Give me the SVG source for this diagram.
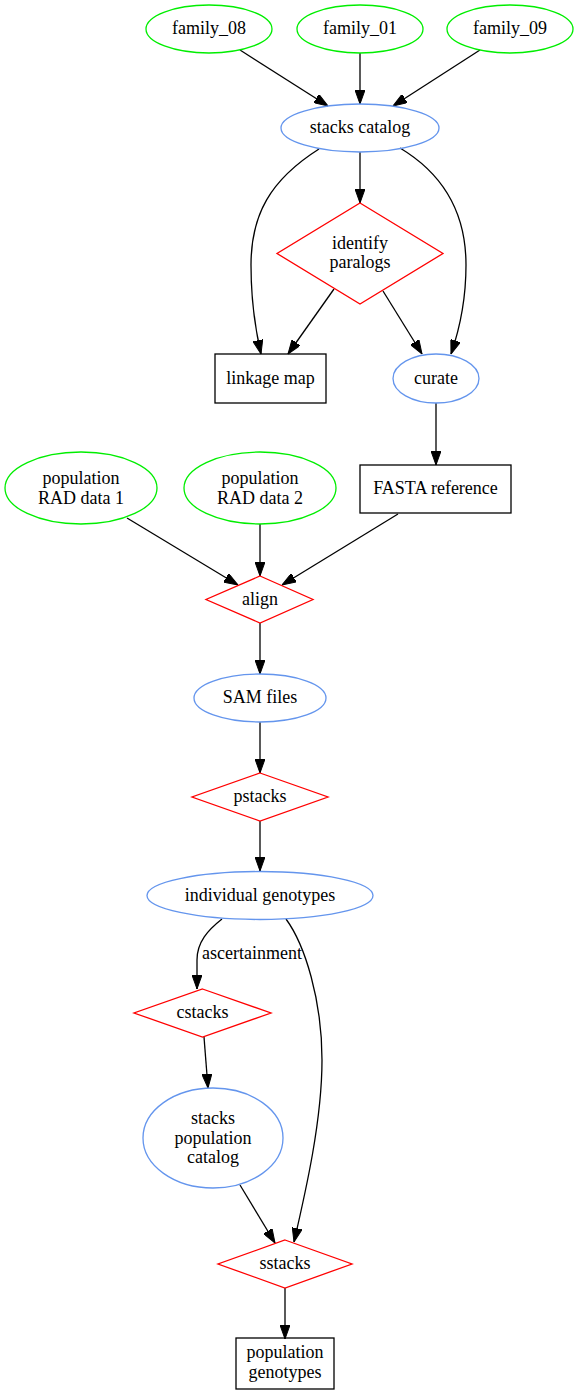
<svg xmlns="http://www.w3.org/2000/svg" width="579" height="1395" viewBox="0 0 579 1395">
<defs>
<style>
text{font-family:"Liberation Serif","Times New Roman",serif;font-size:18px;fill:#000;text-anchor:middle}
.g{fill:none;stroke:#00ee00;stroke-width:1.3}
.b{fill:none;stroke:#6495ed;stroke-width:1.3}
.r{fill:none;stroke:#ff0000;stroke-width:1.3}
.k{fill:none;stroke:#000;stroke-width:1.3}
.e{fill:none;stroke:#000;stroke-width:1.3;marker-end:url(#ah)}
</style>
<marker id="ah" markerUnits="userSpaceOnUse" markerWidth="14" markerHeight="10" refX="14" refY="5" orient="auto" viewBox="0 0 14 10">
<path d="M0,0 L14,5 L0,10 z" fill="#000" stroke="#000" stroke-width="1"/>
</marker>
</defs>
<rect width="579" height="1395" fill="#fff"/>
<g id="connectors">
<path class="e" d="M240,50 L328,106"/>
<path class="e" d="M360,53 L360,104"/>
<path class="e" d="M480,50 L393,106"/>
<path class="e" d="M319,149 C270,180 251,215 251,265 C251,300 255,328 261,354"/>
<path class="e" d="M360,152 L360,203"/>
<path class="e" d="M400,148 C445,175 466,215 466,265 C466,300 460,328 451,354"/>
<path class="e" d="M334,289 L288,354"/>
<path class="e" d="M383,291 L422,354"/>
<path class="e" d="M436,403 L436,465"/>
<path class="e" d="M127,518 L238,585"/>
<path class="e" d="M260,524 L260,576"/>
<path class="e" d="M398,514 L282,585"/>
<path class="e" d="M260,623 L260,674"/>
<path class="e" d="M260,722 L260,773"/>
<path class="e" d="M260,821 L260,871"/>
<path class="e" d="M222,919 C208,930 197,942 197,960 L197,989"/>
<path class="e" d="M286,919 C305,945 322,1000 322,1060 C322,1120 306,1190 294,1242"/>
<path class="e" d="M204,1037 L208,1088"/>
<path class="e" d="M240,1185 L275,1243"/>
<path class="e" d="M285,1288 L285,1339"/>
<text x="202" y="959" style="text-anchor:start">ascertainment</text>
</g>
<g id="family_08"><ellipse class="g" cx="209" cy="29" rx="63" ry="24"/><text x="209" y="34">family_08</text></g>
<g id="family_01"><ellipse class="g" cx="360" cy="29" rx="63" ry="24"/><text x="360" y="34">family_01</text></g>
<g id="family_09"><ellipse class="g" cx="510" cy="29" rx="63" ry="24"/><text x="510" y="34">family_09</text></g>
<g id="stacks_catalog"><ellipse class="b" cx="360" cy="128" rx="79" ry="24"/><text x="360" y="133">stacks catalog</text></g>
<g id="identify_paralogs"><polygon class="r" points="360,203 443,253.5 360,304 277,253.5"/><text x="360" y="248.5">identify</text><text x="360" y="268">paralogs</text></g>
<g id="linkage_map"><rect class="k" x="215" y="354" width="111" height="49"/><text x="270.5" y="384">linkage map</text></g>
<g id="curate"><ellipse class="b" cx="436" cy="378.5" rx="43" ry="24.5"/><text x="436" y="384">curate</text></g>
<g id="fasta_reference"><rect class="k" x="360" y="465" width="151" height="48"/><text x="435.5" y="494">FASTA reference</text></g>
<g id="population_rad_1"><ellipse class="g" cx="81" cy="488" rx="76" ry="36"/><text x="81" y="483.5">population</text><text x="81" y="503.5">RAD data 1</text></g>
<g id="population_rad_2"><ellipse class="g" cx="260" cy="488" rx="76" ry="36"/><text x="260" y="483.5">population</text><text x="260" y="503.5">RAD data 2</text></g>
<g id="align"><polygon class="r" points="260,576 313,599.5 260,623 206,599.5"/><text x="260" y="605">align</text></g>
<g id="sam_files"><ellipse class="b" cx="260" cy="698" rx="66" ry="24"/><text x="260" y="703">SAM files</text></g>
<g id="pstacks"><polygon class="r" points="260,773 328,797 260,821 192,797"/><text x="260" y="802">pstacks</text></g>
<g id="individual_genotypes"><ellipse class="b" cx="260" cy="895.5" rx="113" ry="24"/><text x="260" y="901">individual genotypes</text></g>
<g id="cstacks"><polygon class="r" points="202.5,989 271,1013 202.5,1037 134,1013"/><text x="202.5" y="1018">cstacks</text></g>
<g id="stacks_population_catalog"><ellipse class="b" cx="213" cy="1138" rx="70" ry="50"/><text x="213" y="1124">stacks</text><text x="213" y="1143.5">population</text><text x="213" y="1163">catalog</text></g>
<g id="sstacks"><polygon class="r" points="285,1240 352,1264 285,1288 218,1264"/><text x="285" y="1269">sstacks</text></g>
<g id="population_genotypes"><rect class="k" x="236" y="1338" width="98" height="51"/><text x="285" y="1358">population</text><text x="285" y="1378">genotypes</text></g>
</svg>
